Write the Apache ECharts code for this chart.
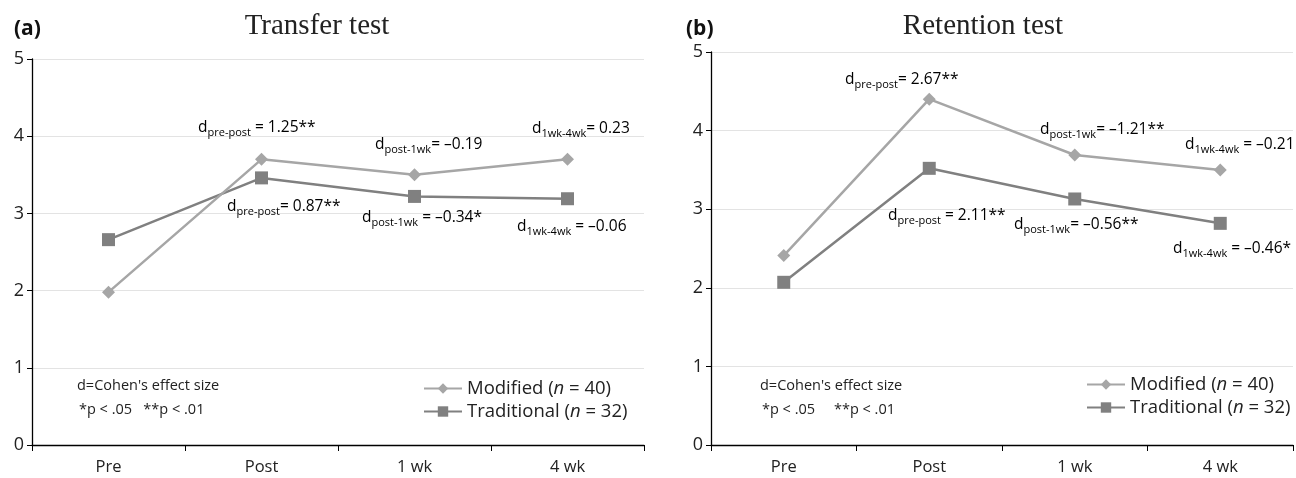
<!DOCTYPE html>
<html>
<head>
<meta charset="utf-8">
<script src="https://cdn.jsdelivr.net/npm/echarts@6/dist/echarts.min.js"></script>
<style>html,body{margin:0;padding:0;background:#fff}#c{width:1296px;height:478px}</style>
</head>
<body>
<div id="c"></div>
<script>
var categories = ['Pre', 'Post', '1 wk', '4 wk'];
var yTicks = [0, 1, 2, 3, 4, 5];
var seriesNames = ['Modified (n = 40)', 'Traditional (n = 32)'];
var transferModified = [1.98, 3.70, 3.50, 3.70];
var transferTraditional = [2.66, 3.46, 3.22, 3.19];
var retentionModified = [2.41, 4.40, 3.69, 3.50];
var retentionTraditional = [2.07, 3.52, 3.13, 2.82];
var transferNotes = [
  ['pre-post', ' = 1.25**'], ['post-1wk', '= \u20130.19'], ['1wk-4wk', '= 0.23'],
  ['pre-post', '= 0.87**'], ['post-1wk', ' = \u20130.34*'], ['1wk-4wk', ' = \u20130.06']
];
var retentionNotes = [
  ['pre-post', '= 2.67**'], ['post-1wk', '= \u20131.21**'], ['1wk-4wk', ' = \u20130.21'],
  ['pre-post', ' = 2.11**'], ['post-1wk', '= \u20130.56**'], ['1wk-4wk', ' = \u20130.46*']
];

var FONT = 'Open Sans';
var cMod = '#a6a6a6', cTrad = '#808080';

// annotation anchor positions (layout only)
var transferPos = [[198,128],[375,145],[532,129],[227,207],[362,218],[517,227]];
var retentionPos = [[845,80],[1040,130],[1185,145],[888,216],[1014,225],[1173,249]];

var rich = {
  d: {fontFamily: FONT, fontSize: 15.5, color: '#222', lineHeight: 20},
  s: {fontFamily: FONT, fontSize: 11, color: '#222', lineHeight: 13, verticalAlign: 'bottom'},
  n: {fontFamily: FONT, fontSize: 15.5, color: '#222', lineHeight: 20}
};
function noteGraphics(notes, pos) {
  return notes.map(function (nt, i) {
    return {
      type: 'text', x: pos[i][0], y: pos[i][1], z: 10,
      style: {text: '{d|d}{s|' + nt[0] + '}{n|' + nt[1] + '}', rich: rich, verticalAlign: 'middle', align: 'left'}
    };
  });
}

function xAx(gi) {
  return {
    type: 'category', gridIndex: gi, data: categories, boundaryGap: true,
    axisLine: {lineStyle: {color: '#000', width: 1.3}},
    axisTick: {show: true, length: 6, lineStyle: {color: '#000'}},
    axisLabel: {fontFamily: FONT, fontSize: 16.5, color: '#222', margin: 14}
  };
}
function yAx(gi) {
  return {
    type: 'value', gridIndex: gi, min: yTicks[0], max: yTicks[yTicks.length - 1], interval: 1,
    axisLine: {show: true, lineStyle: {color: '#000', width: 1.3}},
    axisTick: {show: true, length: 5, lineStyle: {color: '#000'}},
    axisLabel: {fontFamily: FONT, fontSize: 18, color: '#222', margin: 8},
    splitLine: {show: true, lineStyle: {color: '#e3e3e3', width: 1}}
  };
}
function ser(name, data, gi, isMod) {
  return {
    name: name, type: 'line', xAxisIndex: gi, yAxisIndex: gi, data: data,
    symbol: isMod ? 'diamond' : 'rect', symbolSize: 13,
    lineStyle: {color: isMod ? cMod : cTrad, width: 2.5},
    itemStyle: {color: isMod ? cMod : cTrad},
    z: isMod ? 3 : 2, animation: false
  };
}
var legendRich = {
  a: {fontFamily: FONT, fontSize: 18.5, color: '#222'},
  i: {fontFamily: FONT, fontSize: 18.5, color: '#222', fontStyle: 'italic'}
};
function legendFmt(name) {
  var m = name.match(/^(.*\()n( = .*)$/);
  return '{a|' + m[1] + '}{i|n}{a|' + m[2] + '}';
}
function legend(left, top) {
  return {
    data: seriesNames, orient: 'vertical', left: left, top: top, itemGap: 4,
    itemWidth: 38, itemHeight: 13, formatter: legendFmt,
    textStyle: {rich: legendRich}, selectedMode: false
  };
}

var graphics = [
  {type: 'text', x: 14, y: 29, style: {text: '(a)', font: 'bold 21px "Open Sans"', fill: '#111', verticalAlign: 'middle'}},
  {type: 'text', x: 317, y: 26, style: {text: 'Transfer test', font: '29px "Liberation Serif"', fill: '#222', align: 'center', verticalAlign: 'middle'}},
  {type: 'text', x: 686, y: 29, style: {text: '(b)', font: 'bold 21px "Open Sans"', fill: '#111', verticalAlign: 'middle'}},
  {type: 'text', x: 983, y: 26, style: {text: 'Retention test', font: '29px "Liberation Serif"', fill: '#222', align: 'center', verticalAlign: 'middle'}},
  {type: 'text', x: 77, y: 386, style: {text: "d=Cohen's effect size", font: '14.5px "Open Sans"', fill: '#222', verticalAlign: 'middle'}},
  {type: 'text', x: 79, y: 410, style: {text: '*p < .05   **p < .01', font: '14.5px "Open Sans"', fill: '#222', verticalAlign: 'middle'}},
  {type: 'text', x: 760, y: 386, style: {text: "d=Cohen's effect size", font: '14.5px "Open Sans"', fill: '#222', verticalAlign: 'middle'}},
  {type: 'text', x: 762, y: 410, style: {text: '*p < .05     **p < .01', font: '14.5px "Open Sans"', fill: '#222', verticalAlign: 'middle'}}
].concat(noteGraphics(transferNotes, transferPos)).concat(noteGraphics(retentionNotes, retentionPos));

var chart = echarts.init(document.getElementById('c'), null, {renderer: 'canvas'});
chart.setOption({
  animation: false,
  backgroundColor: '#fff',
  grid: [
    {left: 32, right: 652, top: 59, bottom: 33},
    {left: 711, right: 3, top: 52, bottom: 33}
  ],
  xAxis: [xAx(0), xAx(1)],
  yAxis: [yAx(0), yAx(1)],
  legend: [legend(418, 374), legend(1081, 370)],
  series: [
    ser(seriesNames[0], transferModified, 0, true),
    ser(seriesNames[1], transferTraditional, 0, false),
    ser(seriesNames[0], retentionModified, 1, true),
    ser(seriesNames[1], retentionTraditional, 1, false)
  ],
  graphic: graphics
});
</script>
</body>
</html>
